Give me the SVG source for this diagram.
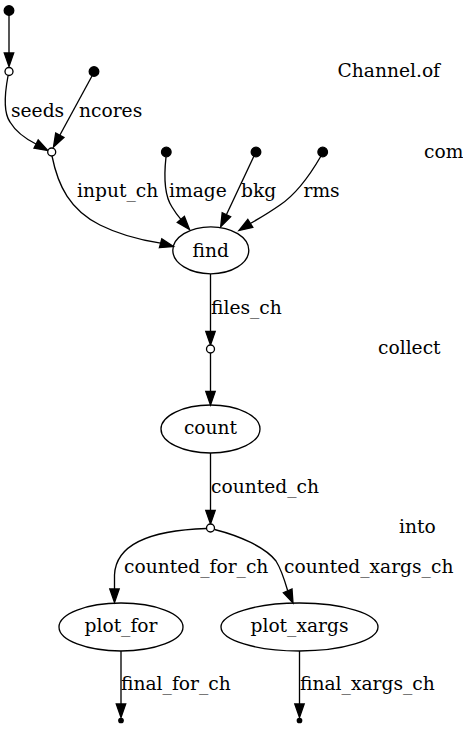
<svg xmlns="http://www.w3.org/2000/svg" width="463" height="731" viewBox="0 0 463 731">
<style>
text{font-family:"DejaVu Serif","Liberation Serif",serif;font-size:18.67px;fill:#000}
.n{fill:none;stroke:#000;stroke-width:1.33}
.e{fill:none;stroke:#000;stroke-width:1.33}
.a{fill:#000;stroke:#000;stroke-width:1.33}
.f{fill:#000;stroke:#000;stroke-width:1.33}
.o{fill:#fff;stroke:#000;stroke-width:1.33}
.m{text-anchor:middle}
</style>
<rect width="463" height="731" fill="#fff"/>
<g id="connectors">
<path class="e" d="M9,15 L9,53"/><polygon class="a" points="4.3,53 9,66.5 13.7,53"/>
<path class="e" d="M8,76 C5,92 3,112 10,122 C16,132 26,139 36,144"/><polygon class="a" points="34,148.2 47.8,150.5 38.2,140"/>
<path class="e" d="M92,76 L59.8,135.3"/><polygon class="a" points="63.9,137.5 53.5,147 55.7,133.1"/>
<path class="e" d="M52,156 C58,186 70,210 100,225 C120,235 140,240 160.6,243.2"/><polygon class="a" points="159.4,247.7 173.5,246.5 161.8,238.7"/>
<path class="e" d="M166,157 C164,175 164,195 172,207 C175,212 178,216 180.9,219.4"/><polygon class="a" points="177.3,222.4 189.5,229.5 184.4,216.4"/>
<path class="e" d="M254,156 L226.4,214.7"/><polygon class="a" points="230.6,216.7 220.7,226.7 222.2,212.7"/>
<path class="e" d="M321,156 C310,175 295,195 280,205 C270,212 260,218 250.3,223.5"/><polygon class="a" points="252.8,227.4 239,230.5 247.8,219.5"/>
<path class="e" d="M210.5,274 L210.5,331.5"/><polygon class="a" points="205.8,331.5 210.5,345 215.2,331.5"/>
<path class="e" d="M210.5,353 L210.5,391.5"/><polygon class="a" points="205.8,391.5 210.5,405 215.2,391.5"/>
<path class="e" d="M210.5,453 L210.5,510.5"/><polygon class="a" points="205.8,510.5 210.5,524 215.2,510.5"/>
<path class="e" d="M206.5,528.5 C160,530 116,540 114.5,575 L114.5,589"/><polygon class="a" points="109.8,589 114.5,602.5 119.2,589"/>
<path class="e" d="M214.5,529.5 C240,536 265,547 276,561 C281,569 284,578 287.7,590.8"/><polygon class="a" points="283.4,592.7 293,603 292,588.9"/>
<path class="e" d="M121,651 L121,704"/><polygon class="a" points="116.3,704 121,717.5 125.7,704"/>
<path class="e" d="M299.5,651 L299.5,704"/><polygon class="a" points="294.8,704 299.5,717.5 304.2,704"/>
</g>
<g id="labels">
<text x="11" y="117">seeds</text>
<text x="79" y="117">ncores</text>
<text x="77" y="197">input_ch</text>
<text x="169" y="197">image</text>
<text x="241" y="197">bkg</text>
<text x="303.5" y="197">rms</text>
<text x="211" y="314">files_ch</text>
<text x="211" y="493">counted_ch</text>
<text x="124" y="573">counted_for_ch</text>
<text x="284" y="573">counted_xargs_ch</text>
<text x="121" y="690">final_for_ch</text>
<text x="300" y="690">final_xargs_ch</text>
<text x="337.5" y="77">Channel.of</text>
<text x="424" y="158">com</text>
<text x="378" y="354">collect</text>
<text x="399" y="533">into</text>
</g>
<g id="n0"><circle class="f" cx="9" cy="10.5" r="4.8"/></g>
<g id="n1"><circle class="o" cx="9" cy="71.5" r="4"/></g>
<g id="n2"><circle class="f" cx="94" cy="71.5" r="4.8"/></g>
<g id="n3"><circle class="o" cx="51.7" cy="152" r="4"/></g>
<g id="n4"><circle class="f" cx="166.3" cy="152" r="4.8"/></g>
<g id="n5"><circle class="f" cx="256" cy="152" r="4.8"/></g>
<g id="n6"><circle class="f" cx="322.7" cy="152" r="4.8"/></g>
<g id="find"><ellipse class="n" cx="210.8" cy="250.3" rx="38" ry="23.5"/><text class="m" x="210.8" y="257">find</text></g>
<g id="n7"><circle class="o" cx="210.5" cy="349" r="4"/></g>
<g id="count"><ellipse class="n" cx="210.5" cy="429" rx="49.5" ry="24"/><text class="m" x="210.5" y="434">count</text></g>
<g id="n8"><circle class="o" cx="210.5" cy="528" r="4"/></g>
<g id="plot_for"><ellipse class="n" cx="121" cy="627" rx="62" ry="24"/><text class="m" x="121" y="632">plot_for</text></g>
<g id="plot_xargs"><ellipse class="n" cx="299.5" cy="627" rx="78.5" ry="24"/><text class="m" x="299.5" y="632">plot_xargs</text></g>
<g id="n9"><circle class="f" cx="121" cy="720.5" r="2.2"/></g>
<g id="n10"><circle class="f" cx="299.5" cy="720.5" r="2.2"/></g>
</svg>
